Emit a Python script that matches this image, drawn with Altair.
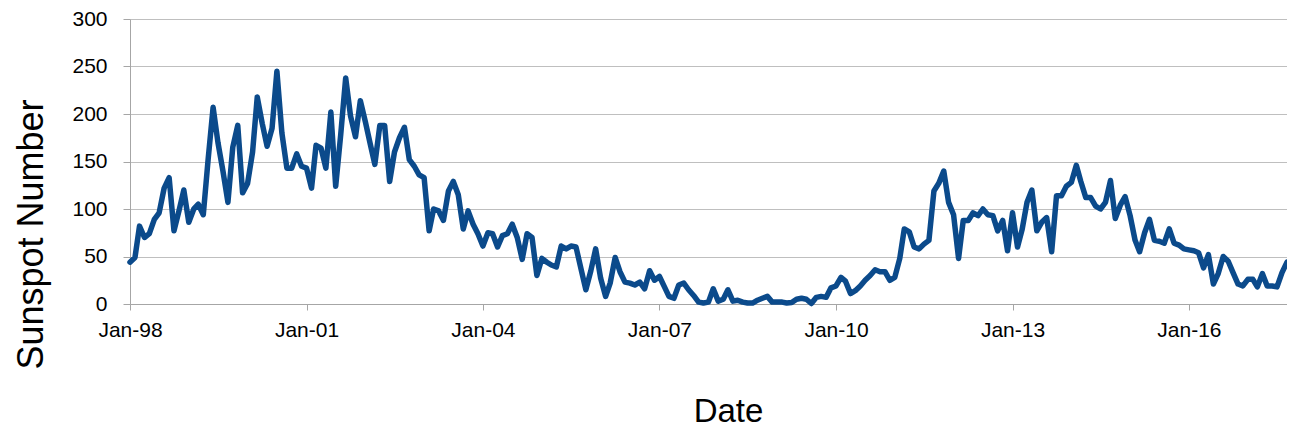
import altair as alt
import pandas as pd

# Monthly sunspot numbers (Jan 1998 - Sep 2017)
ssn_1998 = [44, 49, 82, 70, 74, 89, 96, 122, 133, 77, 98, 120]
ssn_1999 = [86, 100, 105, 94, 152, 207, 170, 140, 107, 165, 188, 117]
ssn_2000 = [127, 160, 218, 190, 166, 185, 245, 180, 143, 143, 158, 145]
ssn_2001 = [143, 122, 167, 164, 143, 202, 124, 178, 238, 198, 176, 214]
ssn_2002 = [192, 168, 147, 188, 188, 129, 160, 175, 186, 152, 145, 136]
ssn_2003 = [133, 77, 100, 98, 88, 119, 129, 115, 79, 98, 84, 74]
ssn_2004 = [61, 75, 74, 60, 72, 74, 84, 70, 47, 74, 70, 30]
ssn_2005 = [48, 44, 41, 39, 61, 58, 61, 60, 37, 15, 35, 58]
ssn_2006 = [27, 8, 22, 49, 34, 23, 22, 20, 23, 16, 35, 25]
ssn_2007 = [29, 18, 8, 6, 20, 22, 15, 9, 2, 1, 2, 16]
ssn_2008 = [3, 5, 15, 3, 4, 2, 1, 1, 4, 6, 8, 2]
ssn_2009 = [2, 2, 1, 1.5, 5, 6, 5, 0.5, 7, 8, 7, 17]
ssn_2010 = [19, 28, 24, 11, 14, 19, 25, 30, 36, 34, 34, 25]
ssn_2011 = [28, 48, 79, 76, 60, 58, 63, 67, 119, 127, 140, 107]
ssn_2012 = [94, 48, 88, 88, 96, 93, 100, 94, 93, 77, 88, 56]
ssn_2013 = [96, 60, 78, 107, 120, 77, 86, 91, 55, 114, 114, 124]
ssn_2014 = [128, 146, 129, 112, 112, 103, 100, 107, 130, 90, 104, 113]
ssn_2015 = [93, 67, 55, 75, 89, 67, 66, 64, 79, 64, 62, 58]
ssn_2016 = [57, 56, 54, 38, 52, 21, 32, 50, 45, 33, 21, 19]
ssn_2017 = [26, 26, 18, 32, 19, 19, 18, 33, 44]

tick_years = [1998, 2001, 2004, 2007, 2010, 2013, 2016]
y_ticks = [0, 50, 100, 150, 200, 250, 300]

values = (ssn_1998 + ssn_1999 + ssn_2000 + ssn_2001 + ssn_2002 + ssn_2003 +
          ssn_2004 + ssn_2005 + ssn_2006 + ssn_2007 + ssn_2008 + ssn_2009 +
          ssn_2010 + ssn_2011 + ssn_2012 + ssn_2013 + ssn_2014 + ssn_2015 +
          ssn_2016 + ssn_2017)
dates = pd.date_range("1998-01-01", periods=len(values), freq="MS").strftime("%Y-%m-%dT00:00:00")
df = pd.DataFrame({"date": list(dates), "ssn": values})

FONT = "Liberation Sans, Arial, sans-serif"
GRID = "#bfbfbf"

chart = alt.Chart(df).mark_line(
    color="#0b4a8b", strokeWidth=5.5, strokeJoin="round", strokeCap="round"
).encode(
    x=alt.X(
        "date:T",
        scale=alt.Scale(
            domain=[alt.DateTime(year=1998, month=1, date=1),
                    alt.DateTime(year=2017, month=9, date=1)],
            nice=False,
        ),
        axis=alt.Axis(
            values=[alt.DateTime(year=y, month=1, date=1) for y in tick_years],
            format="%b-%y",
            title="Date",
            grid=False,
            domainColor="#a6a6a6",
            tickColor="#a6a6a6",
            tickSize=6,
            labelPadding=9,
            labelFontSize=21,
            labelFont=FONT,
            labelColor="#000000",
            labelFlush=False,
            labelOverlap=False,
            titleFont=FONT,
            titleFontSize=33,
            titleFontWeight="normal",
            titleColor="#000000",
            titleX=598,
            titleY=117,
            titleAlign="center",
            titleBaseline="alphabetic",
        ),
    ),
    y=alt.Y(
        "ssn:Q",
        scale=alt.Scale(domain=[0, 300], nice=False),
        axis=alt.Axis(
            values=y_ticks,
            title="Sunspot Number",
            grid=True,
            gridColor=GRID,
            gridWidth=1,
            domainColor="#a6a6a6",
            tickColor="#a6a6a6",
            tickSize=7,
            labelPadding=16,
            labelFontSize=21,
            labelFont=FONT,
            labelColor="#000000",
            labelFlush=False,
            titleFont=FONT,
            titleFontSize=36,
            titleFontWeight="normal",
            titleColor="#000000",
            titleAngle=270,
            titleX=-88,
            titleY=215,
            titleAlign="center",
            titleBaseline="alphabetic",
        ),
    ),
).properties(
    width=1157,
    height=285,
    autosize=alt.AutoSizeParams(type="none"),
    padding={"left": 122, "top": 11, "right": 0, "bottom": 124},
).configure_view(
    stroke=GRID, strokeWidth=1
).configure(
    background="white"
)

chart.save("out.html", embed_options={"renderer": "svg", "actions": False})
